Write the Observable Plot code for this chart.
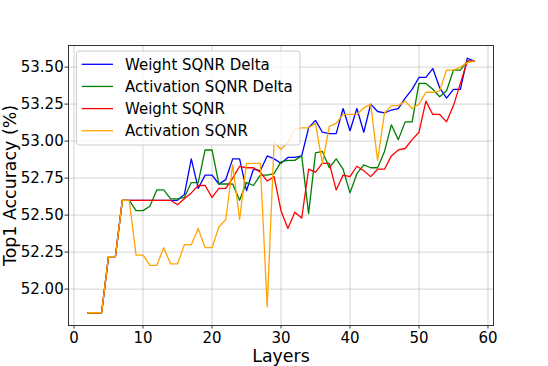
<!DOCTYPE html>
<html>
<head>
<meta charset="utf-8">
<script src="https://cdn.jsdelivr.net/npm/d3@7"></script>
<script src="https://cdn.jsdelivr.net/npm/@observablehq/plot@0.6"></script>
<style>
  html, body { margin: 0; padding: 0; background: #fff; }
  #chart { width: 548px; height: 366px; }
</style>
</head>
<body>
<div id="chart"></div>
<script>
// ---- data ----
const layers = d3.range(2, 59); // 2..58

const weightSqnrDelta = [
  51.84, 51.84, 51.84, 52.22, 52.22, 52.60, 52.60, 52.60, 52.60, 52.60,
  52.60, 52.60, 52.60, 52.60, 52.64, 52.88, 52.68, 52.77, 52.77, 52.71,
  52.74, 52.88, 52.88, 52.665, 52.81, 52.80, 52.90, 52.88, 52.85, 52.89,
  52.89, 52.90, 53.09, 53.14, 53.06, 53.05, 53.05, 53.22, 53.07, 53.22,
  53.06, 53.25, 53.20, 53.19, 53.21, 53.22, 53.29, 53.35, 53.43, 53.43,
  53.49, 53.36, 53.29, 53.35, 53.35, 53.56, 53.54
];

const activationSqnrDelta = [
  51.84, 51.84, 51.84, 52.22, 52.22, 52.60, 52.60, 52.53, 52.53, 52.56,
  52.67, 52.67, 52.61, 52.61, 52.62, 52.72, 52.72, 52.94, 52.94, 52.71,
  52.71, 52.71, 52.60, 52.72, 52.70, 52.77, 52.77, 52.78, 52.86, 52.87,
  52.87, 52.90, 52.51, 52.92, 52.93, 52.82, 52.88, 52.81, 52.65, 52.78,
  52.84, 52.82, 52.82, 52.93, 53.11, 53.01, 53.13, 53.13, 53.39, 53.39,
  53.35, 53.30, 53.34, 53.48, 53.48, 53.54, 53.54
];

const weightSqnr = [
  51.84, 51.84, 51.84, 52.22, 52.22, 52.60, 52.60, 52.60, 52.60, 52.60,
  52.60, 52.60, 52.60, 52.57, 52.61, 52.65, 52.70, 52.70, 52.62, 52.68,
  52.68, 52.75, 52.83, 52.82, 52.82, 52.79, 52.73, 52.76, 52.53, 52.41,
  52.52, 52.48, 52.81, 52.79, 52.85, 52.85, 52.67, 52.77, 52.76, 52.83,
  52.80, 52.76, 52.81, 52.81, 52.90, 52.94, 52.95, 53.01, 53.06, 53.27,
  53.18, 53.18, 53.13, 53.24, 53.39, 53.54, 53.54
];

const activationSqnr = [
  51.84, 51.84, 51.84, 52.22, 52.22, 52.60, 52.60, 52.23, 52.23, 52.16,
  52.16, 52.28, 52.17, 52.17, 52.30, 52.30, 52.41, 52.28, 52.28, 52.42,
  52.47, 52.84, 52.47, 52.85, 52.85, 52.85, 51.88, 52.99, 52.945, 52.99,
  53.08, 53.09, 53.09, 53.12, 52.85, 53.10, 53.12, 53.18, 53.18, 53.18,
  53.225, 53.25, 52.87, 53.19, 53.24, 53.24, 53.27, 53.22, 53.25, 53.33,
  53.33, 53.34, 53.48, 53.48, 53.50, 53.53, 53.54
];

const seriesNames = ["Weight SQNR Delta", "Activation SQNR Delta", "Weight SQNR", "Activation SQNR"];
const seriesColors = ["blue", "green", "red", "orange"];
const seriesValues = [weightSqnrDelta, activationSqnrDelta, weightSqnr, activationSqnr];

const xTicks = [0, 10, 20, 30, 40, 50, 60];
const yTicks = [52.00, 52.25, 52.50, 52.75, 53.00, 53.25, 53.50];

const xLabel = "Layers";
const yLabel = "Top1 Accuracy (%)";

// ---- build table ----
const rows = seriesNames.flatMap((name, s) =>
  seriesValues[s].map((v, i) => ({ layer: layers[i], acc: v, name }))
);

const FONT = "DejaVu Sans, Liberation Sans, sans-serif";

const chart = Plot.plot({
  width: 548,
  height: 366,
  marginLeft: 68,
  marginRight: 55,
  marginTop: 45,
  marginBottom: 41,
  style: { fontFamily: FONT, fontSize: "15px", background: "white", color: "black", overflow: "visible" },
  x: { domain: [-0.8, 60.8] },
  y: { domain: [51.754, 53.646] },
  color: { domain: seriesNames, range: seriesColors },
  marks: [
    Plot.gridX(xTicks, { stroke: "#b0b0b0", strokeOpacity: 0.55, strokeWidth: 1 }),
    Plot.gridY(yTicks, { stroke: "#b0b0b0", strokeOpacity: 0.55, strokeWidth: 1 }),
    ...seriesNames.map(name =>
      Plot.line(rows.filter(r => r.name === name), {
        x: "layer", y: "acc", stroke: "name", strokeWidth: 1.3, curve: "linear"
      })
    ),
    Plot.frame({ stroke: "#333", strokeWidth: 1 }),
    Plot.axisX(xTicks, { tickSize: 3.5, tickPadding: 3, fontSize: 15, label: null, stroke: "#333" }),
    Plot.axisY(yTicks, { tickSize: 3.5, tickPadding: 1.3, fontSize: 15, label: null, tickFormat: d3.format(".2f"), stroke: "#333" }),
    Plot.text([xLabel], { frameAnchor: "bottom", textAnchor: "middle", lineAnchor: "middle", dy: 31, fontSize: 17.4, text: d => d, fill: "black" }),
    Plot.text([yLabel], { frameAnchor: "left", textAnchor: "middle", lineAnchor: "middle", dx: -57.6, rotate: -90, fontSize: 17.4, text: d => d, fill: "black" })
  ]
});

document.getElementById("chart").appendChild(chart);

// ---- legend (upper left, inside the plot frame) ----
const svg = d3.select(chart);
const lg = svg.append("g")
  .attr("font-family", FONT).attr("font-size", 15).attr("text-anchor", "start");
lg.append("rect")
  .attr("x", 76.5).attr("y", 51).attr("width", 223.5).attr("height", 94)
  .attr("rx", 3).attr("fill", "white").attr("fill-opacity", 0.8)
  .attr("stroke", "#cccccc").attr("stroke-width", 1);
seriesNames.forEach((name, i) => {
  const cy = 64.3 + i * 22.15;
  lg.append("line")
    .attr("x1", 81.7).attr("x2", 113).attr("y1", cy).attr("y2", cy)
    .attr("stroke", seriesColors[i]).attr("stroke-width", 1.3);
  lg.append("text")
    .attr("x", 125).attr("y", cy).attr("dy", "0.36em")
    .attr("text-anchor", "start")
    .attr("fill", "black").text(name);
});
</script>
</body>
</html>
